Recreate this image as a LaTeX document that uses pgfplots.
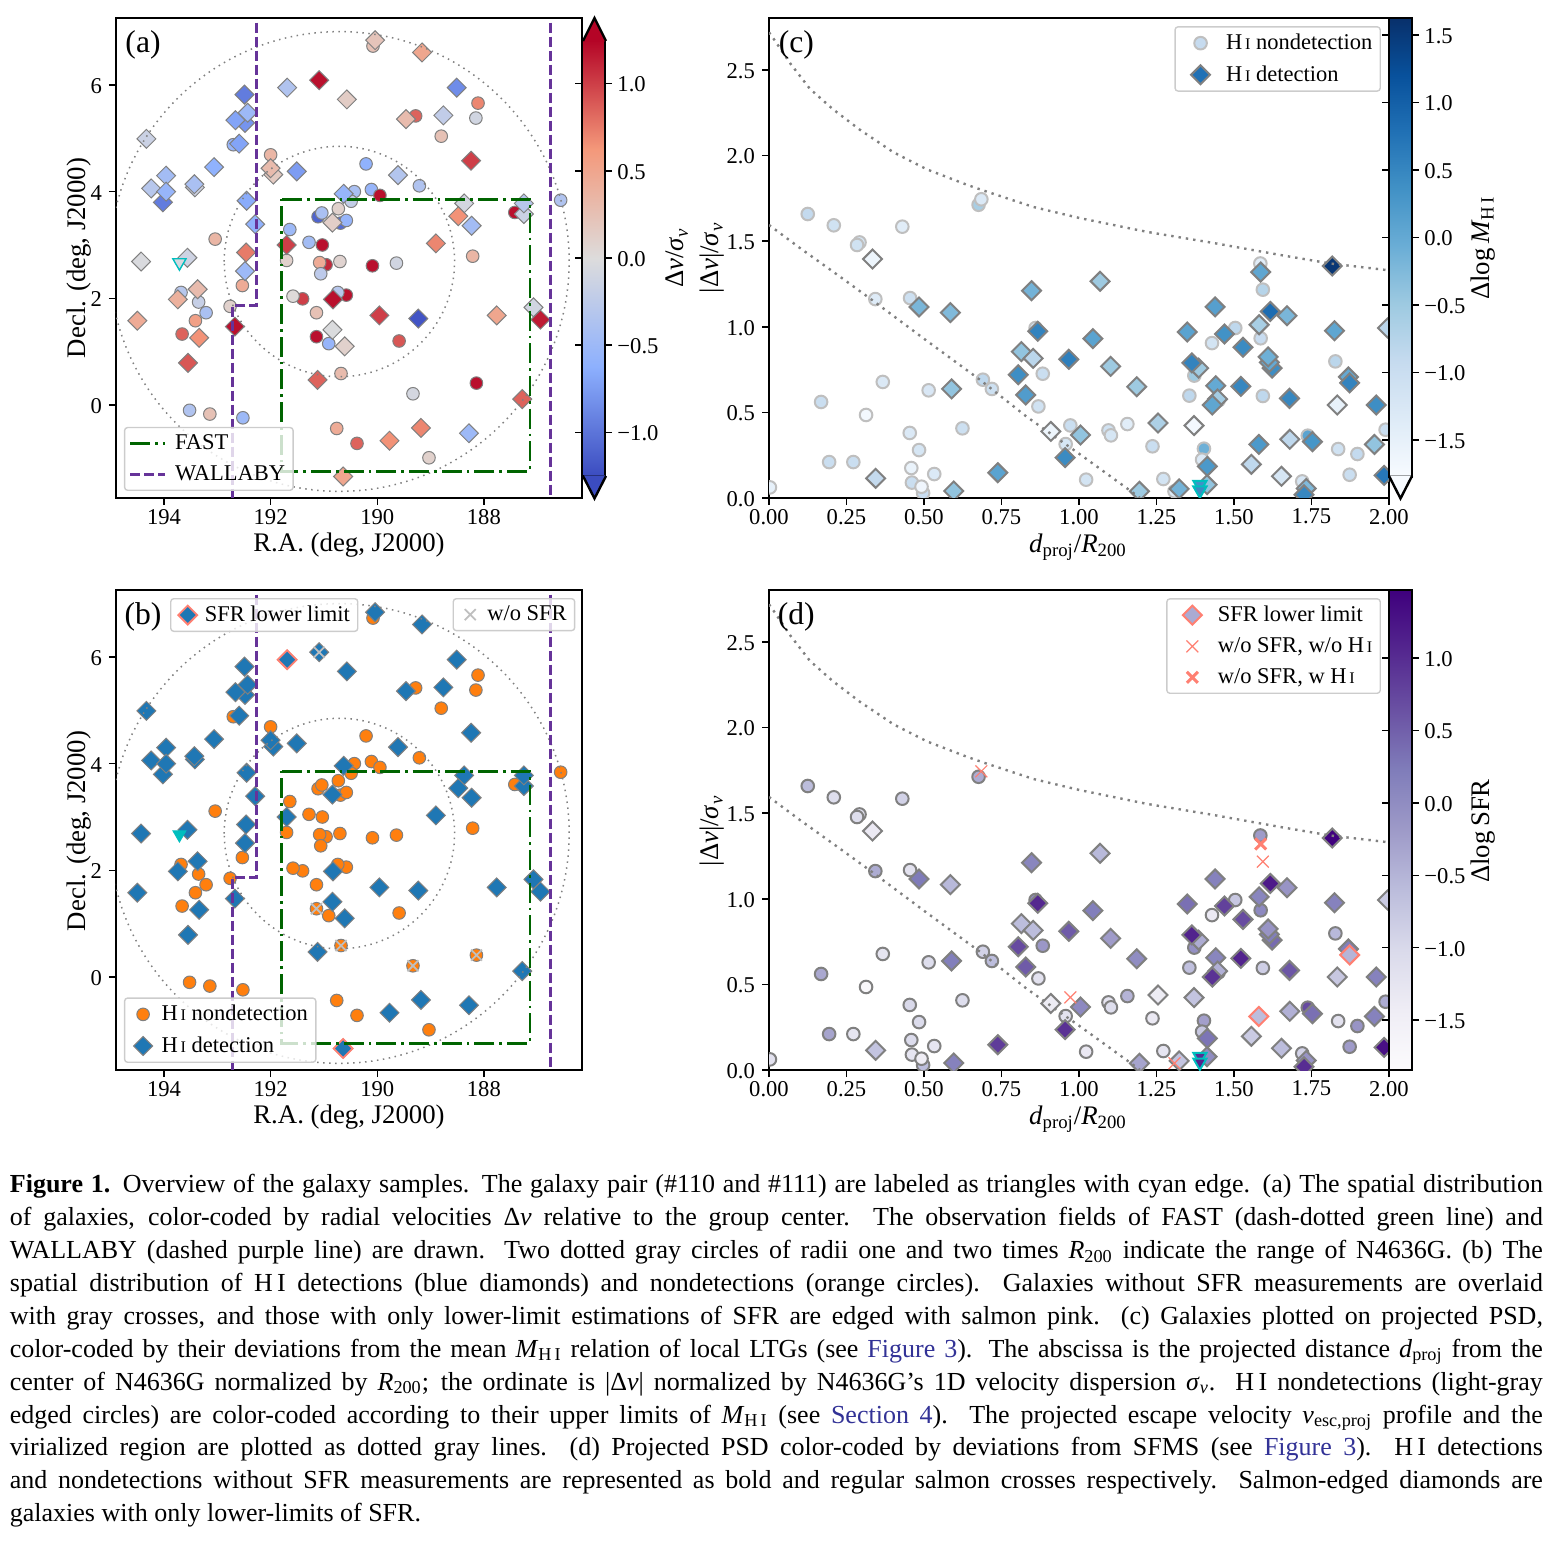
\documentclass[border=0pt]{standalone}
\usepackage{fontspec}
\setmainfont{Liberation Serif}
\usepackage{pgfplots}
\usepackage{pgfplotstable}
\pgfplotsset{compat=1.18}

\definecolor{fastgreen}{RGB}{0,100,0}
\definecolor{wallaby}{RGB}{102,51,153}
\definecolor{salmonp}{RGB}{255,128,114}
\definecolor{mplblue}{RGB}{31,119,180}
\definecolor{mplorange}{RGB}{255,127,14}
\definecolor{cyanedge}{RGB}{0,190,190}
\definecolor{linkblue}{RGB}{50,50,150}

\newcommand{\tickfont}{\fontsize{11.3}{13}\selectfont}
\newcommand{\labfont}{\fontsize{13.4}{15}\selectfont}
\newcommand{\legfont}{\fontsize{11.25}{13}\selectfont}
\newcommand{\panfont}{\fontsize{15.8}{17}\selectfont}
\newcommand{\HI}{H\kern0.12em{\fontsize{0.72em}{1em}\selectfont I}}

\tikzset{dotsky/.style={gray, line width=0.75pt, dash pattern=on 0.75pt off 2.25pt}}

\pgfplotsset{
  colormap={cwarm}{rgb255=(59,76,192) rgb255=(141,176,254) rgb255=(221,220,220) rgb255=(244,152,122) rgb255=(180,4,38)},
  colormap={blues}{rgb255=(247,251,255) rgb255=(222,235,247) rgb255=(198,219,239) rgb255=(158,202,225) rgb255=(107,174,214) rgb255=(66,146,198) rgb255=(33,113,181) rgb255=(8,81,156) rgb255=(8,48,107)},
  colormap={purps}{rgb255=(252,251,253) rgb255=(239,237,245) rgb255=(218,218,235) rgb255=(188,189,220) rgb255=(158,154,200) rgb255=(128,125,186) rgb255=(106,81,163) rgb255=(84,39,143) rgb255=(63,0,125)},
  panel/.style={
    scale only axis, anchor=south west,
    axis line style={line width=1.2pt},
    tick align=outside, xtick pos=bottom, ytick pos=left,
    major tick length=3.5pt, tick style={line width=0.75pt,black},
    ticklabel style={font=\tickfont},
    xticklabel style={yshift=1.5pt}, yticklabel style={yshift=-0.5pt},
    clip marker paths=true,
    legend cell align=left,
    legend image post style={fill opacity=1, draw opacity=1},
    legend style={draw=black!20, line width=0.7pt, rounded corners=1.5pt, fill=white,
      fill opacity=0.8, draw opacity=1, text opacity=1, font=\legfont,
      inner xsep=2pt, inner ysep=1.5pt, row sep=2.5pt},
  },
  sky/.style={panel, width=233pt, height=240pt, x dir=reverse,
    xmin=186.16, xmax=194.9, ymin=-1.744, ymax=7.256,
    xtick={194,192,190,188}, xticklabels={194,192,190,188},
    ytick={0,2,4,6}, yticklabels={0,2,4,6}},
  psd/.style={panel, width=310pt, height=240pt,
    xmin=0, xmax=2, ymin=0, ymax=2.804,
    xtick={0,0.25,0.5,0.75,1,1.25,1.5,1.75,2},
    xticklabels={0.00,0.25,0.50,0.75,1.00,1.25,1.50,1.75,2.00},
    ytick={0,0.5,1,1.5,2,2.5}, yticklabels={0.0,0.5,1.0,1.5,2.0,2.5}},
  cbar/.style={colorbar, colorbar shift/.style={xshift=0pt}},
  cbstyle/.style={width=11.5pt, axis line style={line width=1.2pt}, tick align=outside,
    major tick length=3.5pt, tick style={line width=0.75pt,black}, yticklabel pos=right,
    ticklabel style={font=\tickfont}, yticklabel style={yshift=-0.5pt,xshift=-0.8pt}},
  mcirc/.style={only marks, forget plot, scatter, mark=*, mark size=3.15pt, point meta=explicit},
  mdiam/.style={only marks, forget plot, scatter, mark=square*, mark size=3.35pt,
    mark options={rotate=45}, point meta=explicit},
  mtri/.style={only marks, forget plot, scatter, mark=triangle*, mark size=3.8pt,
    mark options={rotate=180}, point meta=explicit,
    scatter/use mapped color={draw=cyanedge,fill=mapped color}},
  thinedge/.style={line width=0.5pt, scatter/use mapped color={draw=gray,fill=mapped color}},
  siledge/.style={line width=1pt, scatter/use mapped color={draw=black!25,fill=mapped color}},
  graedge/.style={line width=1pt, scatter/use mapped color={draw=gray,fill=mapped color}},
  dotpsd/.style={gray, line width=1.2pt, dash pattern=on 1.2pt off 2.5pt},
  fastline/.style={fastgreen, line width=1.4pt, dash pattern=on 10pt off 2.5pt on 1.35pt off 2.5pt},
  wallline/.style={wallaby, line width=1.5pt, dash pattern=on 5pt off 2pt},
  % legend handles: a mark in the middle of a box W wide, a line with a gap after it
  markleg/.style={legend image code/.code={\path[draw=none,fill=none] (0pt,-2pt) (#1,2pt); \draw[##1] plot coordinates {(0.5*#1,0pt)};}},
  lineleg/.style={legend image code/.code={\draw[##1] (0pt,0pt) -- (17.5pt,0pt); \path[draw=none,fill=none] (0pt,-2pt) (20.5pt,2pt);}},
}

% sky positions, colour = dv/sigma
\pgfplotstableread{
ra dec dv
190.08 6.73 0.25
189.28 5.42 0.85
188.11 5.66 0.70
188.15 5.38 -0.10
188.80 5.04 0.25
192.70 4.88 -0.55
192.00 4.69 0.35
190.21 4.52 -0.60
189.21 4.11 -0.35
190.43 4.00 -0.40
190.11 4.04 -0.55
189.95 3.93 1.20
190.49 3.82 -0.20
190.73 3.68 0.10
186.56 3.84 -0.35
187.42 3.61 1.20
191.11 3.53 -1.10
191.04 3.60 -0.40
190.69 3.41 -1.05
190.58 3.46 -0.55
193.04 3.11 0.35
191.64 3.29 -0.50
191.28 3.05 -0.45
191.03 3.00 1.20
191.70 2.71 0.10
190.96 2.63 1.10
191.08 2.67 0.45
190.70 2.69 0.08
191.06 2.46 -0.25
190.09 2.61 1.20
189.64 2.66 -0.10
188.21 2.79 0.35
192.53 2.24 0.45
193.68 2.11 -0.30
193.35 1.93 -0.18
193.21 1.73 -0.40
192.76 1.85 0.10
193.41 1.58 0.55
193.66 1.33 0.85
191.40 1.99 1.00
191.58 2.04 0.02
190.58 2.06 1.20
190.74 2.11 -0.30
191.14 1.73 0.25
191.14 1.28 1.20
190.91 1.15 -0.55
189.59 1.20 0.90
190.68 0.59 0.30
188.14 0.41 1.20
189.33 0.21 -0.07
193.52 -0.10 -0.35
193.14 -0.17 0.25
192.52 -0.24 -0.50
190.76 -0.44 0.45
190.38 -0.72 0.85
189.03 -0.99 0.10
}\tblSkyC
\pgfplotstableread{
ra dec dv
190.04 6.84 0.22
189.16 6.61 0.50
188.51 5.95 -0.85
190.57 5.73 0.15
191.69 5.95 -0.35
191.09 6.09 1.20
192.48 5.29 -0.80
192.49 5.82 -0.95
192.66 5.34 -0.70
192.43 5.48 -0.50
192.59 4.90 -0.70
189.46 5.36 0.30
188.76 5.43 -0.22
188.24 4.58 1.00
194.33 4.99 -0.15
193.06 4.46 -0.60
191.95 4.32 0.17
192.00 4.44 0.30
191.51 4.38 -0.75
193.96 4.30 -0.45
194.24 4.06 -0.30
194.02 3.80 -0.95
193.96 4.00 -0.55
193.42 4.08 -0.12
193.43 4.14 -0.40
192.45 3.83 -0.65
189.61 4.31 -0.33
190.63 3.96 -0.55
188.37 3.78 -0.08
188.48 3.54 0.65
187.25 3.58 -0.15
187.25 3.78 -0.30
188.23 3.36 -0.45
190.84 3.42 0.13
192.29 3.39 -0.60
188.90 3.03 0.70
191.70 3.00 1.00
193.56 2.76 -0.12
194.43 2.69 -0.03
192.46 2.86 0.75
192.48 2.51 -0.50
193.37 2.17 0.30
193.74 1.98 0.40
190.83 1.98 1.20
187.07 1.83 -0.10
186.94 1.60 1.15
194.50 1.58 0.45
192.67 1.47 1.20
193.34 1.26 0.65
189.96 1.68 1.00
189.23 1.62 -1.20
187.76 1.68 0.50
190.84 1.41 -0.02
190.61 1.10 0.10
193.55 0.79 0.90
191.12 0.47 0.85
187.28 0.11 0.85
189.18 -0.43 0.70
188.28 -0.53 -0.50
189.77 -0.67 0.65
190.64 -1.34 0.50
}\tblSkyD

% projected phase space: x, y, dlogMHI, dlogSFR
\pgfplotstableread{
x y mhi sfr
0.125 1.659 -0.90 -0.60
0.209 1.593 -1.10 -1.10
0.292 1.493 -1.20 -1.15
0.284 1.478 -1.10 -1.10
0.430 1.585 -1.40 -0.90
0.676 1.713 -0.60 -0.40
0.343 1.162 -1.35 -0.40
0.455 1.168 -1.05 -1.20
0.860 0.993 -1.15 0.00
0.883 0.726 -1.00 -0.15
0.690 0.691 -0.85 -0.90
0.719 0.637 -1.05 -0.60
0.367 0.678 -1.30 -1.25
0.515 0.629 -1.25 -1.10
0.168 0.561 -1.00 -0.35
0.869 0.535 -1.10 -1.20
0.313 0.485 -1.70 -1.75
0.454 0.380 -1.30 -1.00
0.624 0.407 -1.05 -1.10
0.484 0.280 -1.20 -1.05
0.957 0.315 -1.20 -1.20
0.194 0.210 -1.00 -0.30
0.272 0.210 -1.00 -1.25
0.459 0.175 -1.55 -1.05
0.533 0.140 -1.30 -1.25
0.497 0.029 -0.95 -0.60
0.461 0.090 -1.00 -1.25
0.492 0.066 -1.65 -1.45
0.003 0.062 -1.50 -1.20
1.023 0.107 -1.15 -1.35
1.585 1.370 -1.40 -0.20
1.504 0.993 -0.85 -0.75
1.429 0.905 -1.15 -1.35
1.586 0.933 -0.95 0.05
1.827 0.798 -0.80 -0.55
1.372 0.715 -0.50 -0.05
1.356 0.598 -0.85 -0.65
1.450 0.570 -1.00 -0.55
1.593 0.596 -0.85 -0.85
1.156 0.432 -1.40 -0.50
1.095 0.395 -1.10 -1.25
1.103 0.366 -1.20 -1.10
1.237 0.302 -1.00 -1.35
1.403 0.288 -0.10 -0.25
1.397 0.224 -1.30 -0.75
1.272 0.111 -1.15 -1.25
1.738 0.364 0.10 0.70
1.836 0.286 -1.10 -1.20
1.898 0.257 -0.90 -0.10
1.873 0.136 -1.00 -0.20
1.989 0.399 -1.00 -0.40
1.720 0.097 -1.20 -0.90
}\tblPsdC
% nondetections without SFR
\pgfplotstableread{
x y mhi
0.685 1.745 -1.30
0.972 0.424 -1.00
1.593 1.217 -0.75
1.308 0.039 -1.30
}\tblPsdCns
\pgfplotstableread{
x y mhi sfr
0.334 1.396 -1.60 -1.35
0.484 1.116 -0.20 0.25
0.585 1.083 -0.25 -0.55
0.847 1.211 -0.15 0.10
0.867 0.974 0.55 1.05
0.814 0.855 -0.40 -0.60
0.852 0.816 -0.80 -0.60
0.967 0.810 0.60 0.55
0.804 0.720 0.40 0.70
0.828 0.602 0.20 0.55
0.589 0.637 -0.40 0.20
0.909 0.389 -1.60 -1.40
1.005 0.368 -0.40 0.05
0.955 0.236 0.45 0.95
0.738 0.148 0.10 0.85
0.344 0.115 -0.90 -0.70
0.596 0.041 -0.40 0.15
1.068 1.266 -0.50 -0.55
1.045 0.931 0.10 0.20
1.439 1.116 0.15 0.15
1.349 0.970 0.10 0.35
1.469 0.958 0.35 0.80
1.581 1.012 -0.60 0.10
1.617 1.090 0.85 1.20
1.671 1.065 -0.20 -0.10
1.529 0.880 0.45 0.70
1.824 0.977 0.05 0.15
1.102 0.769 -0.50 -0.20
1.386 0.759 -0.50 -0.40
1.364 0.789 0.55 1.10
1.623 0.759 0.40 0.40
1.614 0.792 0.00 0.20
1.610 0.824 -0.10 -0.10
1.186 0.650 -0.50 0.00
1.441 0.656 0.00 0.10
1.447 0.578 -0.55 -0.45
1.430 0.543 0.05 0.95
1.522 0.652 0.50 1.10
1.679 0.582 0.50 0.60
1.869 0.707 0.00 0.20
1.833 0.543 -1.50 -0.75
1.959 0.543 0.40 0.15
1.255 0.438 -0.65 -1.40
1.371 0.423 -1.70 -0.70
1.680 0.343 -0.85 -0.45
1.753 0.329 0.30 0.35
1.953 0.313 -0.40 0.15
1.414 0.185 0.25 0.30
1.556 0.197 -0.85 -0.80
1.653 0.127 -1.20 -0.60
1.195 0.039 -0.50 -0.30
1.323 0.053 -0.15 -0.70
1.413 0.078 -0.40 0.00
1.733 0.056 -0.25 -0.10
1.726 0.019 0.50 1.00
1.984 0.132 0.70 1.30
1.995 0.993 -0.80 -0.80
1.817 1.355 1.55 1.45
}\tblPsdD
% SFR lower limits
\pgfplotstableread{
x y mhi sfr
1.873 0.672 0.55 -0.50
1.580 0.313 0.25 -0.60
}\tblPsdDll
\pgfplotstableread{
x y mhi
1.586 1.320 0.05
}\tblPsdDns
\pgfplotstableread{
x y mhi sfr
1.390 0.078 0.35 1.00
1.390 0.045 0.45 1.10
}\tblPsdT

% model curves
\newcommand{\escline}{(0,2.72) (0.014,2.685) (0.068,2.54) (0.132,2.39) (0.207,2.27) (0.294,2.15) (0.401,2.02) (0.509,1.92) (0.638,1.83) (0.702,1.79) (0.853,1.70) (1.003,1.635) (1.218,1.555) (1.433,1.49) (1.648,1.42) (1.81,1.37) (2,1.33)}
\newcommand{\virline}{(0,1.595) (0.10,1.46) (0.229,1.293) (0.336,1.152) (0.498,0.933) (0.681,0.69) (0.831,0.475) (1.014,0.241) (1.165,0.043) (1.197,0)}

\newcommand{\skylines}{%
  \draw[dotsky] (axis cs:190.71,2.69) circle[radius=2.16];
  \draw[dotsky] (axis cs:190.71,2.69) circle[radius=4.31];
  \addplot[fastline, forget plot] coordinates {(191.79,3.86) (187.135,3.86) (187.135,-1.24) (191.79,-1.24) (191.79,3.86)};
  \addplot[wallline, forget plot] coordinates {(192.27,7.17) (192.27,1.86) (192.72,1.86) (192.72,-1.744)};
  \addplot[wallline, forget plot] coordinates {(186.76,7.17) (186.76,-1.744)};
}

\begin{document}
\begin{tikzpicture}
\path[use as bounding box] (0pt,0pt) rectangle (776pt,-772.5pt);

% ---------- (a)
\begin{axis}[sky, at={(58pt,-249pt)}, colormap name=cwarm,
  point meta min=-1.25, point meta max=1.25,
  cbar,
  colorbar style={cbstyle, at={(parent axis.east)}, anchor=west, height=218pt,
    ytick={-1,-0.5,0,0.5,1}, yticklabels={−1.0,−0.5,0.0,0.5,1.0}},
  legend style={at={(0.017,0.0146)}, anchor=south west}]
  \addplot[mcirc, thinedge] table[x=ra,y=dec,meta=dv] {\tblSkyC};
  \addplot[mdiam, thinedge] table[x=ra,y=dec,meta=dv] {\tblSkyD};
  \addplot[mtri, line width=0.7pt] table[x=ra,y=dec,meta=dv] {
    ra dec dv
    193.71 2.67 -0.05
  };
  \skylines
  \addlegendimage{lineleg, fastline}\addlegendentry{FAST}
  \addlegendimage{lineleg, wallline}\addlegendentry{WALLABY}
  \node[anchor=center, font=\panfont] at (rel axis cs:0.058,0.943) {(a)};
\end{axis}

% ---------- (b)
\begin{axis}[sky, at={(58pt,-535pt)},
  legend style={at={(0.017,0.0146)}, anchor=south west}]
  \addplot[only marks, forget plot, mark=*, mark size=3.15pt, draw=gray, fill=mplorange, line width=0.5pt] table[x=ra,y=dec] {\tblSkyC};
  \addplot[only marks, forget plot, mark=square*, mark size=3.35pt, mark options={rotate=45}, draw=gray, fill=mplblue, line width=0.5pt] table[x=ra,y=dec] {\tblSkyD};
  \addplot[only marks, forget plot, mark=square*, mark size=3.35pt, mark options={rotate=45}, draw=salmonp, fill=mplblue, line width=0.9pt] coordinates {(191.69,5.95) (190.64,-1.34)};
  \addplot[only marks, forget plot, mark=x, mark size=3.9pt, draw=black!25, line width=0.9pt] coordinates {(191.14,1.28) (190.68,0.59) (188.14,0.41) (189.33,0.21) (191.09,6.09)};
  \addplot[only marks, forget plot, mark=triangle*, mark size=3.8pt, mark options={rotate=180}, draw=cyanedge, fill=cyanedge] coordinates {(193.71,2.67)};
  \skylines
  \addlegendimage{markleg=14.5pt, only marks, mark=*, mark size=3.15pt, draw=gray, fill=mplorange, line width=0.5pt}\addlegendentry{\HI{} nondetection}
  \addlegendimage{markleg=14.5pt, only marks, mark=square*, mark size=3.35pt, mark options={rotate=45}, draw=gray, fill=mplblue, line width=0.5pt}\addlegendentry{\HI{} detection}
  \node[anchor=center, font=\panfont] at (rel axis cs:0.058,0.943) {(b)};
\end{axis}
% extra legends of (b)
\begin{axis}[panel, hide axis, width=233pt, height=240pt, at={(58pt,-535pt)}, xmin=0,xmax=1,ymin=0,ymax=1,
  legend style={at={(0.116,0.9833)}, anchor=north west}]
  \addlegendimage{markleg=13pt, only marks, mark=square*, mark size=3.35pt, mark options={rotate=45}, draw=salmonp, fill=mplblue, line width=0.9pt}\addlegendentry{SFR lower limit}
\end{axis}
\begin{axis}[panel, hide axis, width=233pt, height=240pt, at={(58pt,-535pt)}, xmin=0,xmax=1,ymin=0,ymax=1,
  legend style={at={(0.9858,0.9833)}, anchor=north east}]
  \addlegendimage{markleg=13pt, only marks, mark=x, mark size=3.9pt, draw=black!25, line width=0.9pt}\addlegendentry{w/o SFR}
\end{axis}

% ---------- (c)
\begin{axis}[psd, at={(384.5pt,-249pt)}, colormap name=blues,
  point meta min=-1.77, point meta max=1.626,
  cbar,
  colorbar style={cbstyle, at={(parent axis.north east)}, anchor=north west, height=229.3pt,
    ytick={-1.5,-1,-0.5,0,0.5,1,1.5}, yticklabels={−1.5,−1.0,−0.5,0.0,0.5,1.0,1.5}},
  legend style={at={(0.987,0.983)}, anchor=north east}]
  \addplot[mcirc, siledge] table[x=x,y=y,meta=mhi] {\tblPsdC};
  \addplot[mcirc, siledge] table[x=x,y=y,meta=mhi] {\tblPsdCns};
  \addplot[mdiam, graedge] table[x=x,y=y,meta=mhi] {\tblPsdD};
  \addplot[mdiam, graedge] table[x=x,y=y,meta=mhi] {\tblPsdDns};
  \addplot[mdiam, graedge] table[x=x,y=y,meta=mhi] {\tblPsdDll};
  \addplot[mtri, line width=1pt] table[x=x,y=y,meta=mhi] {\tblPsdT};
  \addplot[dotpsd, forget plot] coordinates {\escline};
  \addplot[dotpsd, forget plot] coordinates {\virline};
  \addlegendimage{markleg=21.5pt, only marks, mark=*, mark size=3.15pt, draw=black!25, fill={rgb,255:red,198;green,219;blue,239}, line width=1pt}\addlegendentry{\HI{} nondetection}
  \addlegendimage{markleg=21.5pt, only marks, mark=square*, mark size=3.35pt, mark options={rotate=45}, draw=gray, fill={rgb,255:red,33;green,113;blue,181}, line width=1pt}\addlegendentry{\HI{} detection}
  \node[anchor=center, font=\panfont] at (rel axis cs:0.044,0.943) {(c)};
\end{axis}

% ---------- (d)
\begin{axis}[psd, at={(384.5pt,-535pt)}, colormap name=purps,
  point meta min=-1.845, point meta max=1.47,
  cbar,
  colorbar style={cbstyle, at={(parent axis.north east)}, anchor=north west, height=240pt,
    ytick={-1.5,-1,-0.5,0,0.5,1}, yticklabels={−1.5,−1.0,−0.5,0.0,0.5,1.0}},
  legend style={at={(0.987,0.983)}, anchor=north east}]
  \addplot[mcirc, graedge] table[x=x,y=y,meta=sfr] {\tblPsdC};
  \addplot[mdiam, graedge] table[x=x,y=y,meta=sfr] {\tblPsdD};
  \addplot[mdiam, line width=1pt, scatter/use mapped color={draw=salmonp,fill=mapped color}] table[x=x,y=y,meta=sfr] {\tblPsdDll};
  \addplot[only marks, forget plot, mark=x, mark size=4.2pt, draw=salmonp, line width=0.6pt] table[x=x,y=y] {\tblPsdCns};
  \addplot[only marks, forget plot, mark=x, mark size=3.9pt, draw=salmonp, line width=1.5pt] table[x=x,y=y] {\tblPsdDns};
  \addplot[mtri, line width=1pt] table[x=x,y=y,meta=sfr] {\tblPsdT};
  \addplot[dotpsd, forget plot] coordinates {\escline};
  \addplot[dotpsd, forget plot] coordinates {\virline};
  \addlegendimage{markleg=21.5pt, only marks, mark=square*, mark size=3.35pt, mark options={rotate=45}, draw=salmonp, fill={rgb,255:red,170;green,170;blue,210}, line width=1pt}\addlegendentry{SFR lower limit}
  \addlegendimage{markleg=21.5pt, only marks, mark=x, mark size=4.2pt, draw=salmonp, line width=0.6pt}\addlegendentry{w/o SFR, w/o \HI}
  \addlegendimage{markleg=21.5pt, only marks, mark=x, mark size=3.9pt, draw=salmonp, line width=1.5pt}\addlegendentry{w/o SFR, w \HI}
  \node[anchor=center, font=\panfont] at (rel axis cs:0.044,0.943) {(d)};
\end{axis}

% ---------- colour bar ends, labels and caption, positions in image pixels
\begin{scope}[x=0.5pt,y=-0.5pt]
  \fill[fill={rgb,255:red,180;green,4;blue,38}] (584.2,41.5) -- (584.2,40) -- (594.5,18) -- (604.8,40) -- (604.8,41.5) -- cycle;
  \draw[black, line width=1.2pt, line join=miter] (583,41) -- (594.5,18) -- (606,41);
  \fill[fill={rgb,255:red,59;green,76;blue,192}] (584.2,475.5) -- (584.2,477) -- (594.5,498.5) -- (604.8,477) -- (604.8,475.5) -- cycle;
  \draw[black, line width=1.2pt, line join=miter] (583,476) -- (594.5,498.5) -- (606,476);
  \fill[fill={rgb,255:red,247;green,251;blue,255}] (1390.2,475.5) -- (1390.2,477) -- (1400.5,498.5) -- (1410.8,477) -- (1410.8,475.5) -- cycle;
  \draw[black, line width=1.2pt, line join=miter] (1389,476) -- (1400.5,498.5) -- (1412,476);

  \node[font=\labfont] at (349,545) {R.A. (deg, J2000)};
  \node[font=\labfont] at (349,1117) {R.A. (deg, J2000)};
  \node[font=\labfont, rotate=90] at (79,258) {Decl. (deg, J2000)};
  \node[font=\labfont, rotate=90] at (79,831) {Decl. (deg, J2000)};
  \node[font=\labfont, rotate=90] at (677,258) {Δ\textit{v}/\textit{σ}\textsubscript{\textit{v}}};
  \node[font=\labfont, rotate=90] at (712,258) {|Δ\textit{v}|/\textit{σ}\textsubscript{\textit{v}}};
  \node[font=\labfont, rotate=90] at (712,831) {|Δ\textit{v}|/\textit{σ}\textsubscript{\textit{v}}};
  \node[font=\labfont] at (1078,547) {\textit{d}\textsubscript{proj}/\textit{R}\textsubscript{200}};
  \node[font=\labfont] at (1078,1119) {\textit{d}\textsubscript{proj}/\textit{R}\textsubscript{200}};
  \node[font=\labfont, rotate=90] at (1483,248) {Δlog\,\textit{M}\textsubscript{H\,I}};
  \node[font=\labfont, rotate=90] at (1483,831) {Δlog\,SFR};

  \node[anchor=north west, inner sep=0pt, text width=766.5pt, align=justify,
        font=\fontsize{13}{16.45}\selectfont] at (9.5,1174) {%
  \textbf{Figure 1.} Overview of the galaxy samples. The galaxy pair (\#110 and \#111) are labeled as triangles with cyan edge. (a) The spatial distribution\linebreak
  of galaxies, color-coded by radial velocities Δ\textit{v} relative to the group center.\ \ The observation fields of FAST (dash-dotted green line) and\linebreak
  WALLABY (dashed purple line) are drawn. Two dotted gray circles of radii one and two times \textit{R}\textsubscript{200} indicate the range of N4636G. (b) The\linebreak
  spatial distribution of H\,I detections (blue diamonds) and nondetections (orange circles).\ \ Galaxies without SFR measurements are overlaid\linebreak
  with gray crosses, and those with only lower-limit estimations of SFR are edged with salmon pink. (c) Galaxies plotted on projected PSD,\linebreak
  color-coded by their deviations from the mean \textit{M}\textsubscript{H\,I} relation of local LTGs (see \textcolor{linkblue}{Figure 3}). The abscissa is the projected distance \textit{d}\textsubscript{proj} from the\linebreak
  center of N4636G normalized by \textit{R}\textsubscript{200}; the ordinate is |Δ\textit{v}| normalized by N4636G’s 1D velocity dispersion \textit{σ}\textsubscript{\textit{v}}.\ \ H\,I nondetections (light-gray\linebreak
  edged circles) are color-coded according to their upper limits of \textit{M}\textsubscript{H\,I} (see \textcolor{linkblue}{Section 4}).\ \ The projected escape velocity \textit{v}\textsubscript{esc,proj} profile and the\linebreak
  virialized region are plotted as dotted gray lines.\ \ (d) Projected PSD color-coded by deviations from SFMS (see \textcolor{linkblue}{Figure 3}).\ \ H\,I detections\linebreak
  and nondetections without SFR measurements are represented as bold and regular salmon crosses respectively.\ \ Salmon-edged diamonds are\linebreak
  galaxies with only lower-limits of SFR.};
\end{scope}
\end{tikzpicture}
\end{document}
